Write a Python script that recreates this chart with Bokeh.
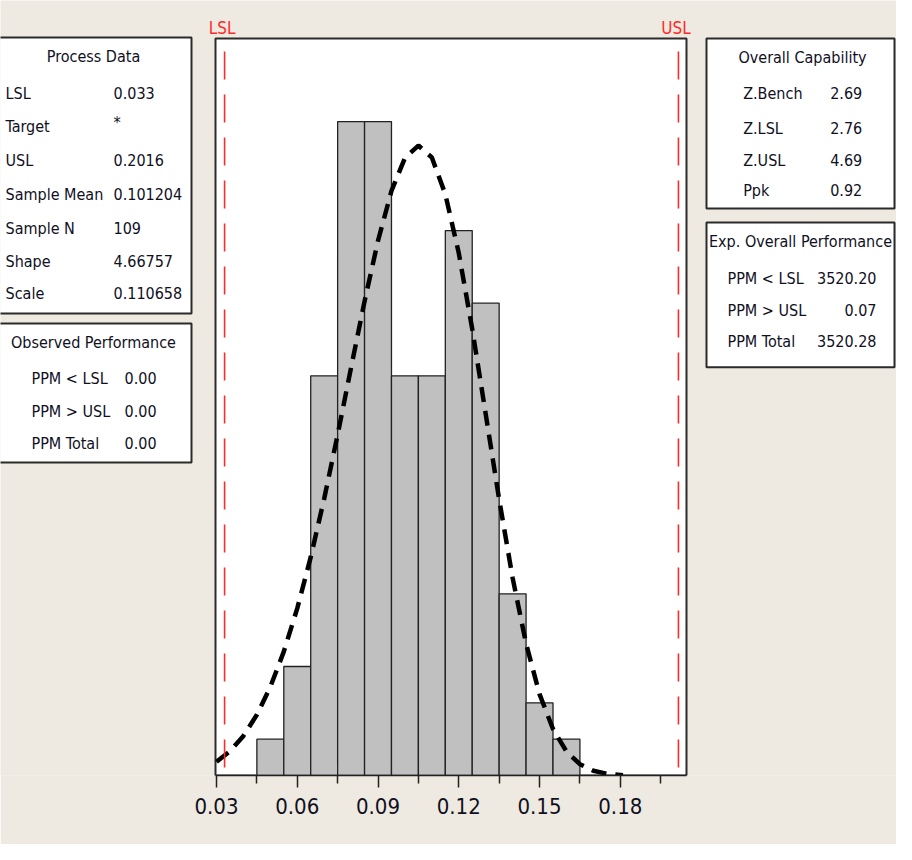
from bokeh.plotting import figure
from bokeh.models import (Range1d, FixedTicker, Label, LabelSet,
                          BoxAnnotation, ColumnDataSource)
from bokeh.core.properties import value
from bokeh.embed import file_html
from bokeh.resources import INLINE

# ---------------- data ----------------
bin_left = [0.045, 0.055, 0.065, 0.075, 0.085, 0.095, 0.105, 0.115, 0.125, 0.135, 0.145, 0.155]
bin_right = [0.055, 0.065, 0.075, 0.085, 0.095, 0.105, 0.115, 0.125, 0.135, 0.145, 0.155, 0.165]
bin_count = [1, 3, 11, 18, 18, 11, 11, 15, 13, 5, 2, 1]

curve_x = [0.030, 0.035, 0.040, 0.045, 0.050, 0.055, 0.060, 0.065, 0.070, 0.075,
           0.080, 0.085, 0.090, 0.095, 0.100, 0.105, 0.110, 0.115, 0.120, 0.125,
           0.130, 0.135, 0.140, 0.145, 0.150, 0.155, 0.160, 0.165, 0.170, 0.175, 0.178, 0.181]
curve_y = [0.38, 0.67, 1.09, 1.67, 2.44, 3.41, 4.60, 6.01, 7.62, 9.38,
           11.23, 13.05, 14.72, 16.09, 17.00, 17.34, 17.01, 16.00, 14.38, 12.29,
           9.95, 7.60, 5.44, 3.63, 2.24, 1.28, 0.66, 0.31, 0.13, 0.05, 0.03, 0.01]

lsl = 0.033
usl = 0.2016
spec_names = ["LSL", "USL"]
spec_values = [lsl, usl]

tick_values = [0.03, 0.06, 0.09, 0.12, 0.15, 0.18]
tick_labels = ["0.03", "0.06", "0.09", "0.12", "0.15", "0.18"]
minor_tick_values = [0.045, 0.075, 0.105, 0.135, 0.165, 0.195]

process_title = "Process Data"
process_names = ["LSL", "Target", "USL", "Sample Mean", "Sample N", "Shape", "Scale"]
process_values = ["0.033", "*", "0.2016", "0.101204", "109", "4.66757", "0.110658"]

observed_title = "Observed Performance"
observed_names = ["PPM < LSL", "PPM > USL", "PPM Total"]
observed_values = ["0.00", "0.00", "0.00"]

capability_title = "Overall Capability"
capability_names = ["Z.Bench", "Z.LSL", "Z.USL", "Ppk"]
capability_values = ["2.69", "2.76", "4.69", "0.92"]

expected_title = "Exp. Overall Performance"
expected_names = ["PPM < LSL", "PPM > USL", "PPM Total"]
expected_values = ["3520.20", "0.07", "3520.28"]

# ---------------- style / layout ----------------
FONT = "DejaVu Sans Condensed"
BG = "#EEEAE1"
TXT = "#10101e"
RED = "#FF2A2A"
W, H = 896, 844
FRAME_BOTTOM = 775            # frame bottom (= histogram baseline) in pixels
PX_PER_UNIT = 2692.0          # horizontal scale of the histogram
PX_PER_COUNT = 36.33          # vertical scale of the histogram
AREA_X0, AREA_X1 = 0.02963, 0.20459   # visible histogram area (data)
AREA_TOP = (FRAME_BOTTOM - 38) / PX_PER_COUNT

x_start = AREA_X0 - 215 / PX_PER_UNIT
x_end = x_start + W / PX_PER_UNIT
y_end = FRAME_BOTTOM / PX_PER_COUNT


def sy(yr):
    return FRAME_BOTTOM - yr


p = figure(width=W, height=H, output_backend="svg", toolbar_location=None,
           x_range=Range1d(x_start, x_end), y_range=Range1d(0, y_end),
           y_axis_location=None, min_border_left=0, min_border_right=0,
           min_border_top=0, min_border_bottom=H - FRAME_BOTTOM)
p.title.text = ""
p.title.visible = False
p.border_fill_color = BG
p.background_fill_color = BG
p.outline_line_color = None
p.xgrid.visible = False
p.ygrid.visible = False

# white histogram area with its frame
p.add_layout(BoxAnnotation(left=AREA_X0, right=AREA_X1, bottom=0, top=AREA_TOP,
                           fill_color="white", fill_alpha=1.0, line_color="#2b2b2b",
                           line_alpha=1.0, line_width=2, level="underlay"))

# histogram
p.quad(left=bin_left, right=bin_right, top=bin_count, bottom=0,
       fill_color="#C0C0C0", line_color="#222222", line_width=1.3)

# fitted curve
p.line(curve_x, curve_y, line_color="black", line_width=4.5, line_dash="15 9")

# spec limits
p.segment(x0=spec_values, x1=spec_values, y0=[AREA_TOP] * 2, y1=[0, 0],
          line_color=RED, line_width=1.6, line_dash="28 15", line_dash_offset=30)
for name, loc in zip(spec_names, spec_values):
    p.add_layout(Label(x=loc, y=sy(27), x_units="data", y_units="screen",
                       text=name, text_align="center", text_baseline="alphabetic",
                       x_offset=-2.5, text_color=RED, text_font=FONT,
                       text_font_size="17px"))

# x axis
ax = p.xaxis[0]
ax.bounds = (AREA_X0, AREA_X1)
ax.ticker = FixedTicker(ticks=tick_values, minor_ticks=minor_tick_values)
ax.major_label_overrides = {v: l for v, l in zip(tick_values, tick_labels)}
ax.major_tick_out = 12
ax.major_tick_in = 0
ax.minor_tick_out = 8
ax.minor_tick_in = 0
ax.major_tick_line_color = "#222222"
ax.minor_tick_line_color = "#222222"
ax.major_tick_line_width = 1.5
ax.minor_tick_line_width = 1.5
ax.axis_line_color = "#222222"
ax.axis_line_width = 1.5
ax.major_label_text_font = FONT
ax.major_label_text_font_size = "22px"
ax.major_label_text_color = TXT
ax.major_label_standoff = 10


def box(x0, y0, x1, y1):
    p.add_layout(BoxAnnotation(left=x0, right=x1, top=sy(y0), bottom=sy(y1),
                               left_units="screen", right_units="screen",
                               top_units="screen", bottom_units="screen",
                               fill_color="white", fill_alpha=1.0,
                               line_color="#2a2a2a", line_alpha=1.0, line_width=2))


def texts(xs, ys, strings, align):
    src = ColumnDataSource(dict(x=xs, y=[sy(v) for v in ys], t=strings))
    p.add_layout(LabelSet(x="x", y="y", text="t", source=src,
                          x_units="screen", y_units="screen",
                          text_align=align, text_baseline="alphabetic",
                          text_font=value(FONT), text_font_size="16px",
                          text_color=TXT))


# Process Data box
box(-5, 37, 191, 313)
texts([93], [61.5], [process_title], "center")
pd_rows = [98.3, 131.7, 165, 199.5, 233.3, 266.7, 298.3]
texts([5] * len(process_names), pd_rows, process_names, "left")
pd_val_rows = list(pd_rows)
pd_val_rows[1] = 127
texts([113] * len(process_values), pd_val_rows, process_values, "left")

# Observed Performance box
box(-5, 323, 191, 462)
texts([93], [347], [observed_title], "center")
ob_rows = [383.3, 416, 448]
texts([31] * 3, ob_rows, observed_names, "left")
texts([124] * 3, ob_rows, observed_values, "left")

# Overall Capability box
box(706, 38, 894, 208)
texts([802], [62], [capability_title], "center")
oc_rows = [98.3, 133.3, 165, 195]
texts([742.7] * 4, oc_rows, capability_names, "left")
texts([861.7] * 4, oc_rows, capability_values, "right")

# Exp. Overall Performance box
box(706, 222, 894, 366.7)
texts([800], [246.7], [expected_title], "center")
ex_rows = [283.3, 315, 346.7]
texts([727] * 3, ex_rows, expected_names, "left")
texts([876] * 3, ex_rows, expected_values, "right")

open("out.html", "w").write(file_html(p, INLINE))
